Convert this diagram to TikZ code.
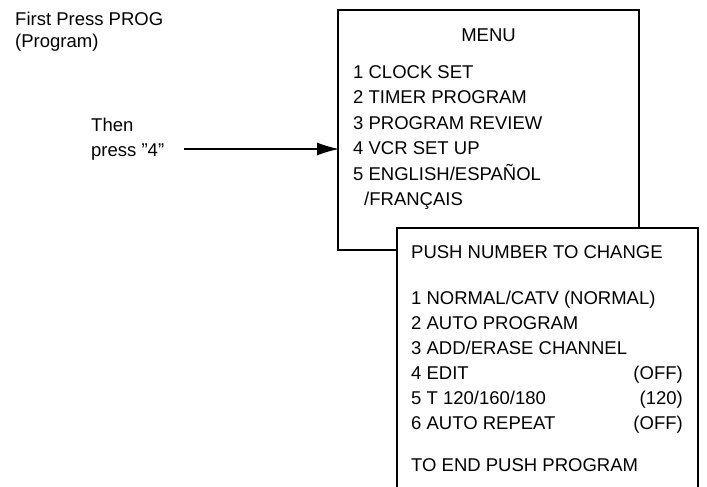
\documentclass[tikz,border=0pt]{standalone}
\usepackage{fontspec}
\setmainfont{Liberation Sans}
\usetikzlibrary{arrows.meta}
\tikzset{
  lbl/.style={inner sep=0pt, anchor=base west, font=\fontsize{18.5}{22}\selectfont},
  rlbl/.style={inner sep=0pt, anchor=base east, font=\fontsize{18.5}{22}\selectfont},
  clbl/.style={inner sep=0pt, anchor=base, font=\fontsize{18.5}{22}\selectfont},
  frame/.style={line width=1.2pt, line join=miter},
  pointer/.style={line width=1.2pt, -{Latex[length=22pt,width=13pt]}}
}
\begin{document}
\begin{tikzpicture}[x=1pt,y=1pt]
\useasboundingbox (0,0) rectangle (707,-487);
% left labels
\node[lbl] (first) at (15,-26) {First Press PROG};
\node[lbl] (prog) at (15,-48) {(Program)};
\node[lbl] (then) at (91,-131) {Then};
\node[lbl] (press) at (91,-156) {press \symbol{34}4\symbol{34}};
% menu box
\draw[frame] (397,-250) -- (338,-250) -- (338,-10) -- (639,-10) -- (639,-228);
\node[clbl] (menu) at (488.5,-42) {MENU};
\node[lbl] (m1) at (353,-78) {1 CLOCK SET};
\node[lbl] (m2) at (353,-103.5) {2 TIMER PROGRAM};
\node[lbl] (m3) at (353,-129) {3 PROGRAM REVIEW};
\node[lbl] (m4) at (353,-154.5) {4 VCR SET UP};
\node[lbl] (m5) at (353,-180) {5 ENGLISH/ESPAÑOL};
\node[lbl] (m6) at (364,-205.5) {/FRANÇAIS};
% arrow
\coordinate (arrS) at (184,-149);
\coordinate (arrE) at (339,-149);
\draw[pointer] (arrS) -- (arrE);
% second box
\draw[frame] (397,-487) -- (397,-228) -- (698,-228) -- (698,-487);
\node[lbl] (push) at (411,-258) {PUSH NUMBER TO CHANGE};
\node[lbl] (s1) at (411,-304) {1 NORMAL/CATV (NORMAL)};
\node[lbl] (s2) at (411,-329) {2 AUTO PROGRAM};
\node[lbl] (s3) at (411,-354) {3 ADD/ERASE CHANNEL};
\node[lbl] (s4) at (411,-379) {4 EDIT};
\node[lbl] (s5) at (411,-404) {5 T 120/160/180};
\node[lbl] (s6) at (411,-429) {6 AUTO REPEAT};
\node[rlbl] (v4) at (683,-379) {(OFF)};
\node[rlbl] (v5) at (683,-404) {(120)};
\node[rlbl] (v6) at (683,-429) {(OFF)};
\node[lbl] (end) at (411,-471) {TO END PUSH PROGRAM};
\end{tikzpicture}
\end{document}
